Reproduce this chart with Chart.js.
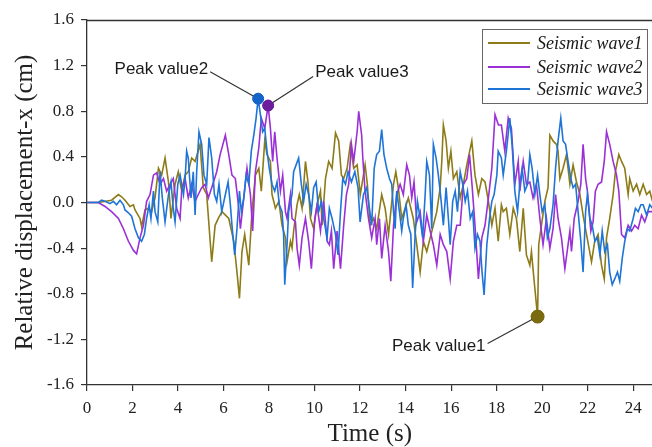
<!DOCTYPE html>
<html>
<head>
<meta charset="utf-8">
<script src="https://cdn.jsdelivr.net/npm/chart.js@4/dist/chart.umd.min.js"></script>
<style>
html,body{margin:0;padding:0;background:#fff;overflow:hidden;width:652px;height:447px;}
canvas{display:block;}
</style>
</head>
<body>
<canvas id="c" width="652" height="447"></canvas>
<script>
// ---- data (time in s, displacement in cm) ----
const seriesNames = ["Seismic wave1", "Seismic wave2", "Seismic wave3"];
const seriesColors = ["#8d7b17", "#9b30d6", "#1f74d8"];

const wave1T = [0,0.5,1.08,1.38,1.52,1.67,1.89,2.04,2.11,2.33,
2.40,2.55,2.70,2.84,2.99,3.14,3.28,3.43,3.58,3.69,
3.87,4.01,4.16,4.31,4.45,4.60,4.75,4.97,5.11,5.26,
5.48,5.63,5.77,5.93,6.23,6.45,6.59,6.70,6.81,6.93,
7.03,7.11,7.25,7.40,7.55,7.66,7.81,7.91,8.06,8.13,
8.28,8.43,8.57,8.72,8.79,8.94,9.01,9.08,9.23,9.33,
9.45,9.60,9.71,9.82,9.96,10.11,10.26,10.33,10.48,10.62,
10.77,10.92,11.06,11.18,11.28,11.43,11.57,11.72,11.87,12.01,
12.22,12.32,12.44,12.59,12.73,12.95,13.10,13.25,13.47,13.57,
13.68,13.83,13.98,14.12,14.34,14.49,14.64,14.78,14.93,15.08,
15.22,15.37,15.52,15.59,15.66,15.78,15.88,15.99,16.10,16.25,
16.40,16.54,16.69,16.91,17.05,17.20,17.35,17.49,17.64,17.79,
17.93,18.07,18.21,18.29,18.43,18.58,18.73,18.87,19.02,19.17,
19.31,19.46,19.53,19.65,19.8,19.85,19.97,20.12,20.26,20.34,
20.48,20.63,20.70,20.78,20.92,21.07,21.22,21.36,21.51,21.66,
21.80,21.95,22.17,22.31,22.46,22.61,22.73,22.83,22.97,23.12,
23.22,23.37,23.49,23.63,23.78,23.85,24.00,24.15,24.29,24.44,
24.59,24.73,24.85];
const wave1Y = [0,0,0.02,0.07,0.05,0.02,-0.035,-0.02,-0.065,-0.14,
-0.21,-0.065,-0.05,-0.08,0.04,0.30,0.24,0.39,0.18,-0.14,
0.16,0.27,0.10,0.24,0.27,0.39,0.36,0.51,0.13,0.07,
-0.52,-0.20,-0.14,-0.08,-0.14,-0.34,-0.61,-0.84,-0.43,-0.28,
-0.43,-0.55,-0.08,0.24,0.30,0.10,0.54,0.42,0.36,0.07,
-0.05,0.01,-0.20,-0.31,-0.52,-0.34,-0.40,-0.25,-0.02,0.07,
-0.05,0.36,0.18,-0.14,-0.23,-0.02,0.10,-0.20,0.21,0.36,
0.30,0.61,0.54,0.24,0.21,0.30,0.51,0.30,0.33,0.07,
0.33,0.16,-0.20,-0.14,-0.23,0.07,-0.05,-0.28,0.16,0.27,
0.13,-0.14,-0.05,0.04,-0.14,-0.37,-0.61,-0.34,-0.43,-0.31,
-0.20,-0.08,0.13,0.36,0.68,0.54,0.30,0.45,0.21,0.27,
0.04,0.16,0.33,0.54,0.24,0.07,0.21,0.18,0.01,-0.20,
-0.05,-0.34,-0.02,-0.08,-0.05,-0.28,-0.05,-0.14,-0.43,-0.05,
-0.46,-0.55,-0.43,-0.69,-1.0,-0.37,-0.20,0.01,0.13,0.59,
0.54,0.51,0.45,0.21,0.30,0.42,0.16,0.33,0.18,0.07,
-0.11,-0.28,-0.52,-0.34,-0.28,-0.55,-0.67,-0.31,-0.14,0.07,
0.27,0.42,0.36,0.30,0.07,0.21,0.10,0.16,0.07,0.16,
0.07,0.10,0.01];

const wave2T = [0,0.5,0.79,1.08,1.38,1.60,1.82,2.04,2.18,2.33,
2.48,2.62,2.77,2.92,3.06,3.21,3.36,3.50,3.65,3.79,
3.94,4.09,4.16,4.31,4.45,4.60,4.75,4.89,5.04,5.19,
5.33,5.48,5.70,5.85,6.08,6.23,6.37,6.52,6.67,6.74,
6.89,7.03,7.18,7.28,7.40,7.55,7.66,7.81,7.96,8.06,
8.16,8.25,8.35,8.50,8.60,8.72,8.79,8.94,9.01,9.16,
9.23,9.33,9.45,9.60,9.74,9.86,10.01,10.11,10.26,10.40,
10.55,10.65,10.74,10.84,10.99,11.14,11.28,11.40,11.50,11.62,
11.72,11.87,11.94,12.07,12.12,12.22,12.37,12.51,12.66,12.73,
12.85,12.95,13.10,13.25,13.35,13.47,13.61,13.76,13.90,14.05,
14.17,14.27,14.37,14.49,14.64,14.78,14.93,15.08,15.22,15.37,
15.52,15.66,15.81,15.96,16.10,16.25,16.40,16.54,16.69,16.81,
16.91,17.05,17.20,17.35,17.49,17.64,17.79,17.93,18.08,18.21,
18.36,18.51,18.65,18.80,18.95,19.02,19.17,19.31,19.46,19.60,
19.75,19.90,20.04,20.19,20.34,20.48,20.59,20.70,20.85,21.00,
21.14,21.22,21.29,21.41,21.58,21.70,21.80,21.91,21.99,22.14,
22.24,22.34,22.46,22.61,22.73,22.83,22.97,23.12,23.27,23.37,
23.49,23.63,23.78,23.93,24.07,24.22,24.37,24.51,24.66,24.85];
const wave2Y = [0,0,-0.035,-0.08,-0.14,-0.23,-0.34,-0.42,-0.45,-0.31,
-0.20,0.01,0.07,0.24,0.26,0.16,0.21,0.10,0.16,0.21,
-0.05,-0.14,0.10,0.21,0.04,0.16,0.01,0.07,0.13,0.16,
0.04,0.13,0.27,0.42,0.59,0.42,0.24,0.21,-0.05,-0.23,
0.04,0.30,0.07,-0.25,0.27,0.48,0.74,0.65,0.85,0.65,
0.36,0.62,0.39,0.10,0.24,-0.08,-0.14,0.07,-0.14,-0.17,
-0.40,-0.55,-0.31,-0.14,-0.34,-0.58,-0.14,-0.02,-0.25,0.01,
-0.34,-0.37,-0.25,-0.58,-0.25,-0.58,-0.20,0.07,0.16,0.51,
0.36,0.62,0.80,0.59,0.39,0.10,-0.14,-0.31,-0.14,-0.37,
-0.14,-0.49,-0.20,-0.43,-0.69,-0.20,0.07,0.16,0.07,0.33,
0.24,0.04,0.18,-0.17,-0.08,-0.34,-0.11,-0.25,-0.37,-0.55,
-0.28,-0.37,-0.43,-0.67,-0.34,-0.20,-0.20,0.16,0.21,0.42,
0.18,-0.20,-0.67,-0.31,-0.20,0.04,0.30,0.77,0.68,0.68,
0.45,0.74,0.65,0.16,0.36,0.10,0.36,0.16,0.18,0.04,
0.16,-0.14,-0.37,-0.14,-0.40,-0.23,0.07,-0.14,-0.31,-0.58,
-0.37,-0.25,-0.43,-0.14,0.01,0.16,0.51,0.21,0.10,-0.25,
-0.17,0.10,0.16,0.18,0.36,0.62,0.51,0.36,0.24,0.10,
-0.28,-0.31,-0.20,-0.25,-0.20,-0.23,-0.11,-0.17,-0.08,-0.08];

const wave3T = [0,0.50,0.64,0.79,1.01,1.16,1.30,1.45,1.60,1.67,
1.82,1.96,2.11,2.26,2.40,2.52,2.62,2.73,2.81,2.92,
2.99,3.11,3.21,3.31,3.43,3.58,3.69,3.79,3.87,3.99,
4.09,4.24,4.31,4.38,4.45,4.57,4.67,4.75,4.82,4.92,
5.04,5.14,5.26,5.36,5.48,5.60,5.70,5.80,5.92,6.08,
6.20,6.30,6.37,6.49,6.59,6.70,6.78,6.89,6.99,7.11,
7.22,7.33,7.43,7.52,7.62,7.72,7.81,7.91,8.01,8.13,
8.25,8.35,8.45,8.57,8.64,8.69,8.79,8.86,9.01,9.08,
9.19,9.30,9.42,9.52,9.63,9.74,9.86,9.96,10.07,10.18,
10.30,10.40,10.55,10.65,10.77,10.92,11.03,11.14,11.24,11.36,
11.47,11.62,11.77,11.91,12.00,12.15,12.29,12.41,12.51,12.62,
12.73,12.85,12.95,13.05,13.17,13.29,13.39,13.47,13.54,13.61,
13.73,13.83,13.90,14.02,14.12,14.23,14.31,14.42,14.52,14.64,
14.75,14.86,14.93,15.05,15.15,15.22,15.34,15.44,15.55,15.66,
15.78,15.88,15.96,16.07,16.18,16.28,16.40,16.51,16.62,16.72,
16.84,16.95,17.05,17.16,17.27,17.36,17.45,17.57,17.69,17.79,
17.89,18.01,18.07,18.21,18.29,18.43,18.58,18.68,18.80,18.92,
19.02,19.12,19.24,19.36,19.46,19.56,19.68,19.80,19.90,20.00,
20.12,20.23,20.34,20.48,20.59,20.70,20.82,20.92,21.03,21.14,
21.26,21.36,21.47,21.58,21.70,21.80,21.91,21.99,22.10,22.20,
22.32,22.43,22.54,22.64,22.75,22.87,22.97,23.08,23.19,23.31,
23.41,23.52,23.63,23.75,23.85,24.00,24.10,24.22,24.34,24.44,
24.59,24.73,24.85];
const wave3Y = [0,0,0.02,0.01,-0.01,0.01,-0.02,0.02,-0.02,-0.065,
-0.09,-0.12,-0.23,-0.31,-0.34,-0.28,-0.14,-0.02,-0.14,0.10,
-0.08,-0.17,0.27,0.04,-0.17,0.07,0.18,-0.05,-0.17,0.16,
0.24,0.07,0.21,0.45,0.39,0.04,0.27,-0.11,0.27,0.62,
0.51,0.24,0.16,0.57,0.39,0.07,0.01,0.16,-0.08,0.07,
0.18,-0.02,-0.20,-0.46,-0.23,0.10,-0.08,0.04,0.24,0.16,
0.45,0.59,0.74,0.91,0.77,0.62,0.65,0.45,0.30,0.16,
0.10,0.18,-0.02,-0.08,-0.28,-0.72,-0.37,-0.08,0.07,0.27,
0.33,0.39,0.16,0.01,0.16,0.07,-0.08,0.13,0.18,-0.08,
0.01,-0.14,-0.31,-0.05,-0.14,-0.28,-0.46,-0.08,0.21,0.16,
0.27,0.18,0.27,0.13,-0.17,0.07,0.13,-0.05,-0.20,0.30,
0.42,0.45,0.64,0.42,0.30,0.21,0.16,-0.08,-0.23,0.10,
-0.08,-0.25,-0.14,-0.02,-0.20,-0.28,-0.75,-0.28,0.01,-0.14,
-0.31,0.07,0.36,0.24,-0.23,0.51,0.39,0.24,0.04,-0.20,
0.13,-0.14,-0.37,0.01,0.10,-0.08,0.27,0.16,0.01,0.10,
-0.14,-0.08,-0.40,-0.28,-0.34,-0.61,-0.81,-0.37,-0.14,0.01,
0.07,0.24,0.45,0.39,0.24,0.45,0.74,0.51,0.10,-0.08,
0.16,0.30,0.10,0.16,0.42,0.30,0.07,0.24,0.07,-0.08,
-0.02,-0.31,-0.23,-0.02,0.30,0.54,0.74,0.54,0.51,0.36,
0.21,0.13,0.16,-0.08,-0.34,-0.61,-0.08,0.07,-0.14,-0.20,
-0.34,-0.31,-0.46,-0.25,-0.43,-0.37,-0.61,-0.72,-0.67,-0.61,
-0.69,-0.49,-0.34,-0.23,-0.25,-0.14,-0.05,-0.08,-0.02,-0.02,
-0.11,-0.02,-0.05];

// peaks
const peakLabels = ["Peak value1", "Peak value2", "Peak value3"];
const peakT = [19.8, 7.52, 7.96];
const peakY = [-1.0, 0.91, 0.85];
const peakColors = ["#7a6a10", "#1565c8", "#6c1d9c"];

// axis ticks
const xTickStep = 2, xMin = 0, xMax = 24.85;
const yTickStep = 0.4, yMin = -1.6, yMax = 1.6;

// ---- build ----
const PAGE_W = 652, PAGE_H = 447;
function pts(T, Y) { return T.map((t, i) => ({ x: t, y: Y[i] })); }
const waveT = [wave1T, wave2T, wave3T];
const waveY = [wave1Y, wave2Y, wave3Y];
const peakRadius = [6.5, 5.5, 5.5];

function buildDatasets() {
  const datasets = [];
  for (let i = 0; i < 3; i++) {
    datasets.push({
      type: 'line', label: seriesNames[i], data: pts(waveT[i], waveY[i]),
      borderColor: seriesColors[i], borderWidth: 1.6, pointRadius: 0,
      tension: 0, fill: false, order: 3 - i
    });
  }
  for (let i = 0; i < 3; i++) {
    datasets.push({
      type: 'scatter', label: peakLabels[i], data: [{ x: peakT[i], y: peakY[i] }],
      backgroundColor: peakColors[i], borderColor: peakColors[i],
      pointRadius: peakRadius[i], pointHoverRadius: peakRadius[i], order: 0
    });
  }
  return datasets;
}

// label layout (offsets from marker, in px)
const peakTextOffset = [[-52, 30, 'right'], [-50, -29, 'right'], [47, -33, 'left']];
const peakLineOffset = [[-50, 27], [-48, -27], [45, -29]];

const SERIF = "'Liberation Serif', 'Times New Roman', serif";
const SANS = "'Liberation Sans', Arial, sans-serif";

const decor = {
  id: 'decor',
  afterDatasetsDraw(chart) {
    const ctx = chart.ctx, a = chart.chartArea;
    const xs = chart.scales.x, ys = chart.scales.y;
    const right = Math.min(a.right, PAGE_W);
    ctx.save();
    // top frame
    ctx.strokeStyle = '#333'; ctx.lineWidth = 1.3;
    ctx.beginPath(); ctx.moveTo(a.left, a.top + 0.5); ctx.lineTo(a.right, a.top + 0.5); ctx.stroke();

    // peak annotations
    ctx.font = "17px " + SANS;
    ctx.fillStyle = '#1a1a1a';
    ctx.textBaseline = 'middle';
    for (let i = 0; i < 3; i++) {
      const px = xs.getPixelForValue(peakT[i]), py = ys.getPixelForValue(peakY[i]);
      ctx.strokeStyle = '#333'; ctx.lineWidth = 1.2;
      ctx.beginPath();
      ctx.moveTo(px + peakLineOffset[i][0], py + peakLineOffset[i][1]);
      ctx.lineTo(px, py);
      ctx.stroke();
      ctx.textAlign = peakTextOffset[i][2];
      ctx.fillText(peakLabels[i], px + peakTextOffset[i][0], py + peakTextOffset[i][1]);
    }
    for (let i = 0; i < 3; i++) {
      const px = xs.getPixelForValue(peakT[i]), py = ys.getPixelForValue(peakY[i]);
      ctx.fillStyle = peakColors[i];
      ctx.beginPath(); ctx.arc(px, py, peakRadius[i], 0, Math.PI * 2); ctx.fill();
    }

    // legend box
    const bx = right - 170, by = a.top + 9, bw = 165, bh = 74;
    ctx.fillStyle = '#fff';
    ctx.fillRect(bx, by, bw, bh);
    ctx.strokeStyle = '#666'; ctx.lineWidth = 1;
    ctx.strokeRect(bx + 0.5, by + 0.5, bw, bh);
    ctx.font = "italic 18px " + SERIF;
    ctx.textAlign = 'left';
    const rows = [14, 38, 60];
    for (let i = 0; i < 3; i++) {
      const yy = by + rows[i];
      ctx.strokeStyle = seriesColors[i]; ctx.lineWidth = 2;
      ctx.beginPath(); ctx.moveTo(bx + 6, yy); ctx.lineTo(bx + 48, yy); ctx.stroke();
      ctx.fillStyle = '#1a1a1a';
      ctx.fillText(seriesNames[i], bx + 55, yy + 1);
    }
    ctx.restore();
  }
};

function makeChart(canvas) {
  return new Chart(canvas, {
    data: { datasets: buildDatasets() },
    options: {
      responsive: false, animation: false, devicePixelRatio: 1,
      layout: { padding: { top: 20, right: 0, bottom: 0, left: 0 } },
      plugins: { legend: { display: false }, tooltip: { enabled: false } },
      events: [],
      scales: {
        x: {
          type: 'linear', min: xMin, max: xMax,
          afterFit(s) { s.height = 62; },
          ticks: { stepSize: xTickStep, includeBounds: false, autoSkip: false, maxRotation: 0,
            font: { family: SERIF, size: 17 }, color: '#222', padding: 7,
            callback: v => String(Math.round(v)) },
          grid: { drawOnChartArea: false, drawTicks: true, tickLength: 6, color: '#333', lineWidth: 1.2 },
          border: { display: true, color: '#333', width: 1.3 },
          title: { display: true, text: 'Time (s)', color: '#222', padding: 0,
            font: { family: SERIF, size: 25, lineHeight: 1 } }
        },
        y: {
          type: 'linear', min: yMin, max: yMax,
          afterFit(s) { s.width = 87; },
          ticks: { stepSize: yTickStep, font: { family: SERIF, size: 17 }, color: '#222', padding: 7,
            callback: v => (Math.abs(v) < 1e-9 ? 0 : v).toFixed(1) },
          grid: { drawOnChartArea: false, drawTicks: true, tickLength: 6, color: '#333', lineWidth: 1.2 },
          border: { display: true, color: '#333', width: 1.3 },
          title: { display: true, text: 'Relative displacement-x (cm)', color: '#222',
            padding: { top: 10, bottom: 0 }, font: { family: SERIF, size: 25, lineHeight: 1.2 } }
        }
      }
    },
    plugins: [decor]
  });
}

// Chart.js leaves a small gap right of the plot; widen the canvas so the plot
// reaches the page edge (the overflow is clipped, like the cropped reference).
const cv = document.getElementById('c');
let chart = makeChart(cv);
const gap = Math.round(PAGE_W - chart.chartArea.right);
if (gap > 0) {
  chart.destroy();
  cv.width = PAGE_W + gap;
  cv.height = PAGE_H;
  chart = makeChart(cv);
}
</script>
</body>
</html>
